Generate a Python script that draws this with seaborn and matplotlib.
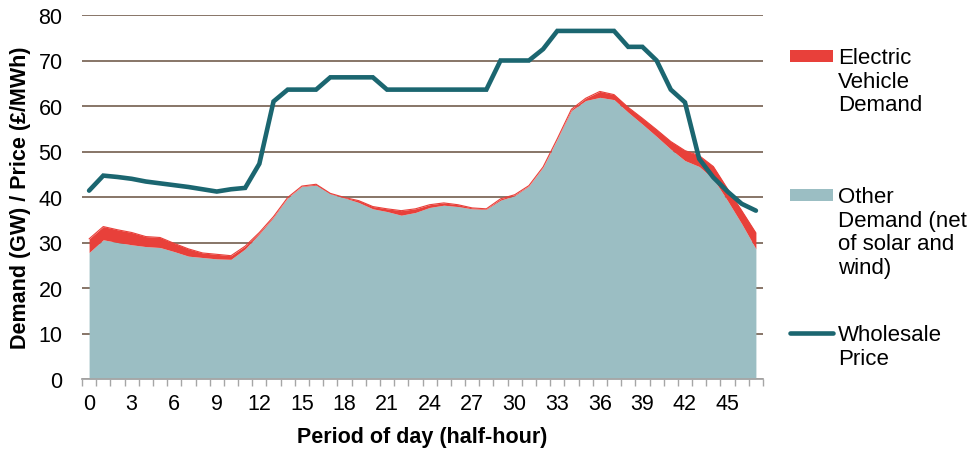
import matplotlib
matplotlib.use("Agg")
import matplotlib.pyplot as plt
from matplotlib.lines import Line2D
from matplotlib.patches import Rectangle
from matplotlib.ticker import FixedLocator
import numpy as np
import pandas as pd
import seaborn as sns

# Half-hour periods of the day
periods = list(range(48))

# Demand excluding EVs, net of solar and wind (GW)
other_demand = [27.8, 30.6, 30.0, 29.5, 29.1, 28.9, 28.0, 27.0, 26.7, 26.4,
                26.3, 28.6, 31.9, 35.5, 39.8, 42.3, 42.6, 40.7, 39.8, 38.8,
                37.4, 36.8, 36.0, 36.6, 37.7, 38.2, 37.9, 37.4, 37.3, 39.3,
                40.3, 42.4, 46.5, 52.7, 59.0, 61.2, 61.9, 61.4, 58.6, 56.0,
                53.3, 50.5, 48.0, 46.7, 44.0, 39.2, 34.1, 28.6]

# Electric vehicle charging demand stacked on top (GW)
ev_demand = [3.0, 2.9, 2.8, 2.7, 2.2, 2.2, 1.8, 1.6, 1.0, 1.0,
             0.8, 0.6, 0.3, 0.2, 0.1, 0.1, 0.2, 0.1, 0.1, 0.4,
             0.5, 0.6, 1.0, 0.8, 0.6, 0.5, 0.4, 0.2, 0.1, 0.3,
             0.2, 0.1, 0.1, 0.1, 0.3, 0.5, 1.3, 1.1, 1.1, 1.3,
             1.5, 1.7, 2.2, 2.4, 2.7, 2.6, 2.9, 3.5]

# Wholesale electricity price (£/MWh)
wholesale_price = [41.4, 44.7, 44.4, 44.0, 43.4, 43.0, 42.6, 42.2, 41.7, 41.2,
                   41.7, 42.0, 47.3, 61.0, 63.6, 63.6, 63.6, 66.3, 66.3, 66.3,
                   66.3, 63.6, 63.6, 63.6, 63.6, 63.6, 63.6, 63.6, 63.6, 70.0,
                   70.0, 70.0, 72.5, 76.5, 76.5, 76.5, 76.5, 76.5, 73.0, 73.0,
                   70.0, 63.6, 60.8, 48.4, 44.3, 41.2, 38.5, 37.0]

x_tick_labels = [str(v) for v in range(0, 48, 3)]
y_ticks = list(range(0, 81, 10))

legend_labels = ["Electric\nVehicle\nDemand",
                 "Other\nDemand (net\nof solar and\nwind)",
                 "Wholesale\nPrice"]

RED = "#E8403A"
BLUE = "#9BBEC3"
TEAL = "#1B6670"
GRID = "#7E6A5C"
AXIS_GREY = "#A6A6A6"

df = pd.DataFrame({
    "period": periods,
    "other": other_demand,
    "ev": ev_demand,
    "price": wholesale_price,
})
df["total"] = df["other"] + df["ev"]

sns.set_theme(style="white")
plt.rcParams["font.family"] = ["Liberation Sans", "DejaVu Sans"]

W, H = 973, 456
fig = plt.figure(figsize=(W / 100, H / 100), dpi=100)
ax = fig.add_axes([82 / W, 1 - 380 / H, (763 - 82) / W, (380 - 16) / H])

# Stacked demand areas
ax.fill_between(df["period"], 0, df["other"], color=BLUE, lw=0, zorder=2)
ax.fill_between(df["period"], df["other"], df["total"], color=RED, lw=0, zorder=2)
sns.lineplot(data=df, x="period", y="total", ax=ax, color=RED, lw=0.8, zorder=3)

# Price line
sns.lineplot(data=df, x="period", y="price", ax=ax, color=TEAL, lw=3.3,
             zorder=4, solid_capstyle="round", solid_joinstyle="miter")

ax.set_xlim(-0.5, 47.5)
ax.set_ylim(0, 80)

# Axes styling
ax.set_axisbelow(True)
ax.yaxis.grid(True, color=GRID, lw=1.3)
ax.xaxis.grid(False)
for side in ("top", "right", "left"):
    ax.spines[side].set_visible(False)
ax.spines["bottom"].set_color(AXIS_GREY)
ax.spines["bottom"].set_linewidth(1.3)
ax.spines["bottom"].set_zorder(5)

ax.xaxis.set_major_locator(FixedLocator(list(range(0, 48, 3))))
ax.set_xticklabels(x_tick_labels)
ax.xaxis.set_minor_locator(FixedLocator(list(np.arange(-0.5, 48, 1.0))))
ax.tick_params(axis="x", which="major", length=0, pad=10, labelsize=15.5,
               labelcolor="black")
ax.tick_params(axis="x", which="minor", length=5, width=1.0, color=AXIS_GREY,
               direction="out", bottom=True)
ax.set_yticks(y_ticks)
ax.tick_params(axis="y", length=0, pad=14, labelsize=15.5, labelcolor="black")

ax.set_xlabel("Period of day (half-hour)", fontsize=15.5, fontweight="bold",
              labelpad=9, color="black")
ax.set_ylabel("Demand (GW) / Price (£/MWh)", fontsize=15.5, fontweight="bold",
              labelpad=5, color="black")


# Legend drawn in figure pixel space
def fx(px):
    return px / W


def fy(py):
    return 1 - py / H


fig.add_artist(Rectangle((fx(790), fy(63)), fx(833) - fx(790), 12 / H,
                         transform=fig.transFigure, color=RED, lw=0))
fig.add_artist(Rectangle((fx(790), fy(202)), fx(833) - fx(790), 12 / H,
                         transform=fig.transFigure, color=BLUE, lw=0))
fig.add_artist(Line2D([fx(790), fx(833)], [fy(334), fy(334)],
                      transform=fig.transFigure, color=TEAL, lw=3.3,
                      solid_capstyle="round"))

for label, top in zip(legend_labels, (48, 187, 325)):
    fig.text(fx(838), fy(top), label, ha="left", va="top", fontsize=16,
             color="black", linespacing=1.17)

fig.savefig("out.png", dpi=100)
